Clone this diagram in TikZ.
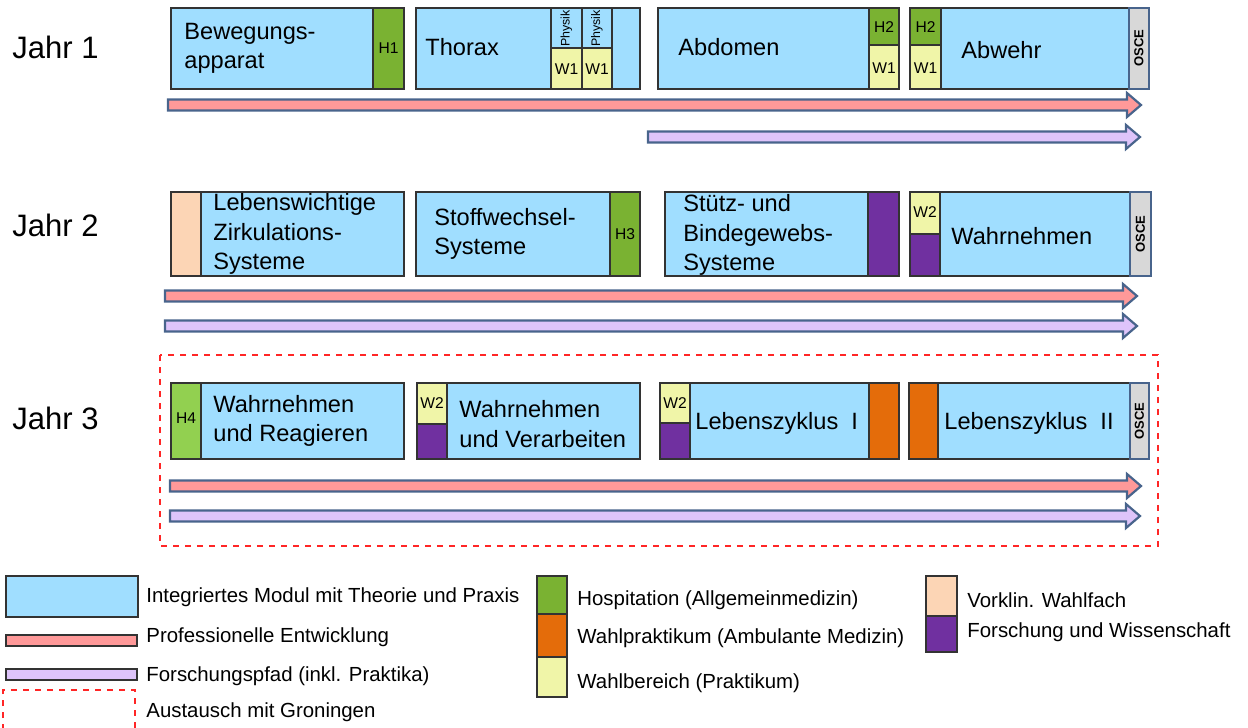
\documentclass[tikz,border=0pt]{standalone}
\usepackage{fontspec}
\setmainfont{Liberation Sans}
\usetikzlibrary{positioning}

\definecolor{modulblau}{RGB}{160,222,255}
\definecolor{hospgruen}{RGB}{122,178,50}
\definecolor{hellgruen}{RGB}{146,208,80}
\definecolor{wahlgelb}{RGB}{240,245,168}
\definecolor{forschlila}{RGB}{112,48,160}
\definecolor{ambuorange}{RGB}{228,108,10}
\definecolor{vorklin}{RGB}{252,213,181}
\definecolor{osceGrau}{RGB}{216,216,216}
\definecolor{profrosa}{RGB}{255,153,153}
\definecolor{pfadlila}{RGB}{222,196,250}
\definecolor{pfeilrand}{RGB}{72,100,140}

\tikzset{
  modul/.style={fill=modulblau, draw=black!80, line width=0.8pt},
  hosp/.style={fill=hospgruen, draw=black!80, line width=0.8pt},
  hosphell/.style={fill=hellgruen, draw=black!80, line width=0.8pt},
  wahl/.style={fill=wahlgelb, draw=black!80, line width=0.8pt},
  forsch/.style={fill=forschlila, draw=black!80, line width=0.8pt},
  ambu/.style={fill=ambuorange, draw=black!80, line width=0.8pt},
  vorkl/.style={fill=vorklin, draw=black!80, line width=0.8pt},
  osce/.style={fill=osceGrau, draw=pfeilrand, line width=0.8pt},
  pfeil/.style={draw=pfeilrand, line width=1.1pt, line join=miter},
  jahr/.style={anchor=west, inner sep=0pt, font=\fontsize{15.5}{18}\selectfont},
  titel/.style={anchor=west, inner sep=0pt, align=left, font=\fontsize{11.8}{14.6}\selectfont},
  klein/.style={inner sep=0pt, font=\fontsize{7.8}{9}\selectfont},
  legende/.style={anchor=west, inner sep=0pt, font=\fontsize{10.2}{12}\selectfont}
}

\begin{document}
\begin{tikzpicture}[x=0.5pt, y=-0.5pt]
  \useasboundingbox (0,0) rectangle (1248,728);

  % Jahr 1
  \node[jahr] (j1) at (12,47) {Jahr 1};

  \draw[modul] (171,8) rectangle (404,89);
  \draw[hosp] (373,8) rectangle (404,89);
  \node[klein] (h1) at (388.5,48) {H1};
  \node[titel] (bew) at (184,48) {Bewegungs-\\apparat};

  \draw[modul] (416,8) rectangle (640,89);
  \draw[modul] (551,8) rectangle (582,48);
  \draw[modul] (582,8) rectangle (612,48);
  \draw[wahl] (551,48) rectangle (582,89);
  \draw[wahl] (582,48) rectangle (612,89);
  \begin{scope}
    \clip (551,9) rectangle (612,47);
    \node[anchor=west, inner sep=0pt, rotate=90, font=\fontsize{6.2}{7}\selectfont] (ph1) at (566.5,47) {Physik};
    \node[anchor=west, inner sep=0pt, rotate=90, font=\fontsize{6.2}{7}\selectfont] (ph2) at (597,47) {Physik};
  \end{scope}
  \node[klein] (w1a) at (566.5,69) {W1};
  \node[klein] (w1b) at (597,69) {W1};
  \node[titel] (tho) at (425,47) {Thorax};

  \draw[modul] (658,8) rectangle (899,89);
  \draw[hosp] (869,8) rectangle (899,45);
  \draw[wahl] (869,45) rectangle (899,89);
  \node[klein] (h2a) at (884,27) {H2};
  \node[klein] (w1c) at (884,68) {W1};
  \node[titel] (abd) at (678,47) {Abdomen};

  \draw[modul] (910,8) rectangle (1149,89);
  \draw[hosp] (910,8) rectangle (941,45);
  \draw[wahl] (910,45) rectangle (941,89);
  \draw[osce] (1129,8) rectangle (1149,89);
  \node[klein] (h2b) at (925.5,27) {H2};
  \node[klein] (w1d) at (925.5,68) {W1};
  \node[klein, rotate=90, font=\bfseries\fontsize{6.5}{7}\selectfont] (os1) at (1139,48) {OSCE};
  \node[titel] (abw) at (961,50) {Abwehr};

  % Jahr 2
  \node[jahr] (j2) at (12,225) {Jahr 2};

  \draw[modul] (171,192) rectangle (404,276);
  \draw[vorkl] (171,192) rectangle (201,276);
  \node[titel] (leb) at (213,234) {Lebenswichtige\\Zirkulations-\\Systeme};

  \draw[modul] (416,192) rectangle (640,276);
  \draw[hosp] (610,192) rectangle (640,276);
  \node[klein] (h3) at (625,234) {H3};
  \node[titel] (sto) at (434,234) {Stoffwechsel-\\Systeme};

  \draw[modul] (665,192) rectangle (899,276);
  \draw[forsch] (868,192) rectangle (899,276);
  \node[titel] (stu) at (683,235) {Stütz- und\\Bindegewebs-\\Systeme};

  \draw[modul] (910,192) rectangle (1151,276);
  \draw[wahl] (910,192) rectangle (940,234);
  \draw[forsch] (910,234) rectangle (940,276);
  \draw[osce] (1130,192) rectangle (1151,276);
  \node[klein] (w2a) at (925,212) {W2};
  \node[klein, rotate=90, font=\bfseries\fontsize{6.5}{7}\selectfont] (os2) at (1140.5,234) {OSCE};
  \node[titel] (wah) at (951,236) {Wahrnehmen};

  % Jahr 3
  \node[jahr] (j3) at (12,418) {Jahr 3};
  \draw[red!85, dashed, line width=0.7pt] (160,355) rectangle (1158,546);

  \draw[modul] (171,383) rectangle (404,459);
  \draw[hosphell] (171,383) rectangle (201,459);
  \node[klein] (h4) at (186,418) {H4};
  \node[titel] (wur) at (213,421) {Wahrnehmen\\und Reagieren};

  \draw[modul] (417,383) rectangle (640,459);
  \draw[wahl] (417,383) rectangle (447,424);
  \draw[forsch] (417,424) rectangle (447,459);
  \node[klein] (w2b) at (432,403) {W2};
  \node[titel] (wuv) at (459,424) {Wahrnehmen\\und Verarbeiten};

  \draw[modul] (660,383) rectangle (899,459);
  \draw[wahl] (660,383) rectangle (690,423);
  \draw[forsch] (660,423) rectangle (690,459);
  \draw[ambu] (869,383) rectangle (899,459);
  \node[klein] (w2c) at (675,403) {W2};
  \node[titel] (lz1) at (695,423) {Lebenszyklus\ \ I};

  \draw[modul] (909,383) rectangle (1149,459);
  \draw[ambu] (909,383) rectangle (938,459);
  \draw[osce] (1130,383) rectangle (1149,459);
  \node[klein, rotate=90, font=\bfseries\fontsize{6.5}{7}\selectfont] (os3) at (1139.5,421) {OSCE};
  \node[titel] (lz2) at (944,423) {Lebenszyklus\ \ II};

  % Pfeile: Start, Spitze, Hoehe, Farbe
  \foreach \xa/\xb/\yy/\farbe in {168/1141/105/profrosa, 648/1140/137/pfadlila,
      165/1137/296/profrosa, 165/1137/326/pfadlila,
      170/1141/486/profrosa, 170/1140/516/pfadlila}
    \draw[pfeil, fill=\farbe] (\xa,\yy-5.5) -- (\xb-14,\yy-5.5) -- (\xb-14,\yy-12)
      -- (\xb,\yy) -- (\xb-14,\yy+12) -- (\xb-14,\yy+5.5) -- (\xa,\yy+5.5) -- cycle;

  % Legende
  \draw[modul] (6,576) rectangle (138,617);
  \node[legende] (lg1) at (146,597) {Integriertes Modul mit Theorie und Praxis};
  \draw[fill=profrosa, draw=black!80, line width=0.8pt] (6,635) rectangle (137,646);
  \node[legende] (lg2) at (146,637) {Professionelle Entwicklung};
  \draw[fill=pfadlila, draw=black!80, line width=0.8pt] (6,669) rectangle (137,680);
  \node[legende] (lg3) at (146,676) {Forschungspfad (inkl. Praktika)};
  \draw[red!85, dashed, line width=0.7pt] (3,730) -- (3,690) -- (135,690) -- (135,730);
  \node[legende] (lg4) at (146,712) {Austausch mit Groningen};

  \draw[hosp] (537,576) rectangle (567,614);
  \draw[ambu] (537,614) rectangle (567,657);
  \draw[wahl] (537,657) rectangle (567,697);
  \node[legende] (lg5) at (577,600) {Hospitation (Allgemeinmedizin)};
  \node[legende] (lg6) at (577,638) {Wahlpraktikum (Ambulante Medizin)};
  \node[legende] (lg7) at (577,683) {Wahlbereich (Praktikum)};

  \draw[vorkl] (926,576) rectangle (957,616);
  \draw[forsch] (926,616) rectangle (957,652);
  \node[legende] (lg8) at (967,600) {Vorklin. Wahlfach};
  \node[legende] (lg9) at (967,632) {Forschung und Wissenschaft};
\end{tikzpicture}
\end{document}
